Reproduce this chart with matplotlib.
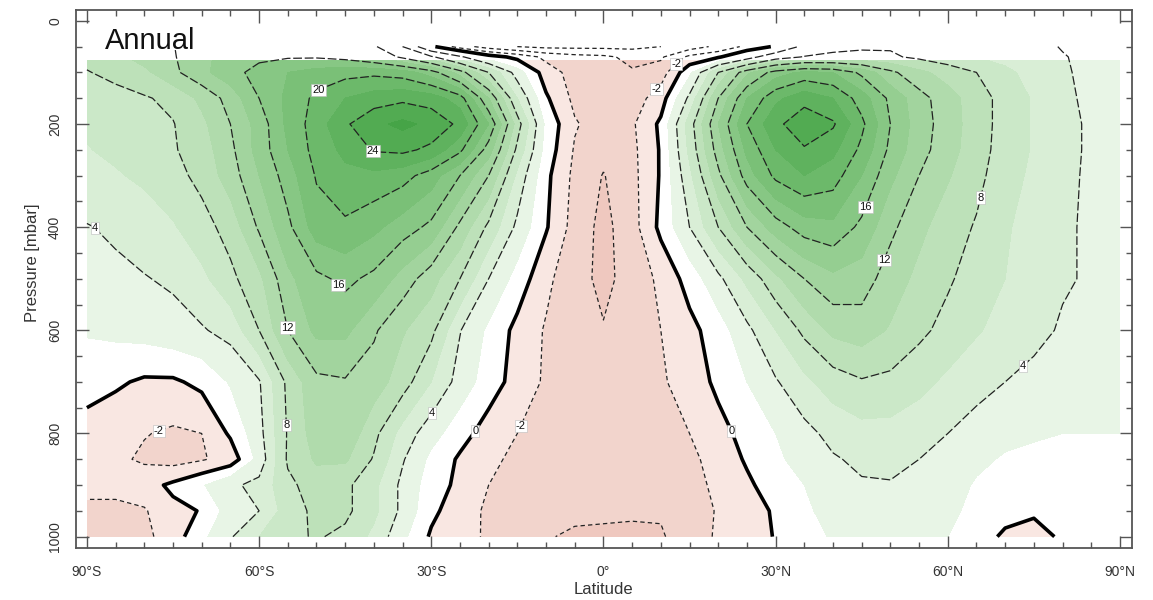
import numpy as np
import matplotlib
matplotlib.use('Agg')
import matplotlib.pyplot as plt
from matplotlib.patches import Rectangle

plt.rcParams['font.family'] = ['Liberation Sans', 'DejaVu Sans']

# zonal-mean zonal wind [m/s], annual mean; rows = pressure level, cols = latitude
lats = np.arange(-90, 91, 5)
plev = np.array([50, 70, 100, 150, 200, 250, 300, 400, 500, 600, 700, 800, 850, 900, 950, 1000])

u_050 = [8.7, 9.7, 10.9, 11.9, 13.5, 14.6, 15.2, 15.4, 15.2, 14.5, 12.5, 8.0, 0.5, -3.0, -5.0, -6.0, -6.5, -6.5, -6.5,
         -6.5, -6.0, -5.0, -3.5, -1.5, 0.3, 5.0, 7.5, 7.8, 7.8, 7.2, 6.5, 5.8, 5.0, 4.5, 3.9, 3.5, 3.3]
u_070 = [8.5, 9.5, 10.8, 11.8, 13.5, 14.8, 15.5, 15.8, 15.8, 15.3, 14.0, 11.5, 8.5, 4.5, 1.0, -0.6, -2.5, -3.3, -3.6,
         -4.5, -4.3, -1.5, -0.3, 2.5, 6.5, 8.2, 8.4, 8.4, 8.3, 7.6, 6.8, 6.0, 5.3, 4.7, 4.1, 3.6, 3.4]
u_100 = [7.9, 8.5, 9.5, 11.5, 13.5, 15.2, 16.8, 18.0, 18.8, 19.3, 19.5, 19.0, 17.0, 13.0, 8.0, 3.0, -1.0, -2.8, -3.3,
         -3.8, -3.0, 1.5, 8.0, 13.5, 17.0, 18.5, 18.0, 15.5, 12.5, 10.5, 9.2, 8.0, 6.5, 5.2, 4.2, 3.6, 3.4]
u_150 = [7.0, 7.4, 7.8, 8.5, 10.5, 12.8, 16.0, 18.5, 20.5, 22.0, 23.0, 23.5, 23.0, 21.0, 14.0, 6.0, 0.3, -2.5, -3.3,
         -3.0, -1.0, 4.5, 12.0, 18.0, 21.5, 23.3, 22.0, 19.0, 15.5, 12.8, 10.8, 9.0, 7.2, 5.8, 4.3, 3.7, 3.5]
u_200 = [6.3, 6.8, 7.4, 7.9, 9.5, 12.0, 14.8, 18.5, 21.0, 23.7, 25.5, 26.5, 25.5, 23.5, 18.0, 9.0, 1.5, -1.8, -3.0,
         -2.3, 0.4, 7.0, 14.0, 20.0, 23.5, 25.3, 24.3, 20.5, 16.0, 13.0, 11.0, 9.0, 7.2, 5.8, 4.4, 3.8, 3.6]
u_250 = [5.9, 6.4, 7.0, 7.8, 9.0, 11.5, 14.8, 18.0, 20.8, 22.5, 24.2, 24.5, 23.5, 20.5, 15.0, 7.5, 1.2, -2.2, -3.4,
         -2.5, 0.2, 6.5, 13.0, 18.5, 22.0, 23.8, 22.5, 19.5, 15.5, 12.8, 10.8, 8.9, 7.1, 5.8, 4.4, 3.8, 3.6]
u_300 = [5.3, 5.8, 6.4, 7.3, 8.6, 11.0, 14.0, 17.0, 20.2, 21.5, 21.5, 20.8, 19.0, 16.0, 12.0, 5.5, 0.5, -2.5, -4.1,
         -2.6, 0.2, 5.5, 11.5, 17.0, 20.5, 22.0, 21.0, 18.0, 14.5, 12.0, 10.2, 8.6, 6.8, 5.6, 4.3, 3.8, 3.6]
u_400 = [3.9, 4.3, 4.9, 5.8, 7.2, 8.8, 12.3, 15.5, 19.0, 19.6, 18.5, 17.0, 15.5, 11.5, 7.5, 3.5, 0.2, -2.8, -4.6,
         -2.8, 0.5, 4.0, 8.0, 12.0, 15.0, 17.0, 17.5, 15.5, 12.5, 10.5, 9.0, 7.8, 6.3, 5.0, 4.2, 3.8, 3.6]
u_500 = [3.3, 3.6, 3.9, 4.3, 5.5, 7.5, 9.5, 13.5, 15.5, 16.5, 15.5, 13.2, 10.8, 8.0, 4.0, 1.2, -1.5, -3.4, -4.4,
         -3.4, -1.5, 0.8, 3.5, 6.5, 9.5, 12.0, 13.5, 13.0, 11.0, 9.5, 8.3, 7.0, 6.0, 5.0, 4.2, 3.8, 3.6]
u_600 = [2.2, 2.5, 2.8, 3.3, 3.8, 4.7, 8.0, 12.0, 14.5, 14.5, 12.3, 10.2, 8.6, 4.1, 1.6, -0.6, -2.2, -3.1, -3.9,
         -3.1, -2.0, -0.6, 1.0, 3.5, 6.0, 8.5, 10.5, 11.0, 9.8, 8.5, 7.3, 6.2, 5.3, 4.5, 3.8, 3.5, 3.4]
u_700 = [0.8, 0.3, -0.3, -0.3, 0.5, 2.2, 3.8, 8.5, 11.5, 11.8, 11.0, 9.0, 6.0, 3.2, 1.0, -0.8, -2.3, -3.0, -3.0,
         -3.0, -2.3, -1.0, 0.4, 2.0, 3.8, 5.5, 7.0, 7.8, 7.5, 6.6, 5.6, 4.7, 4.0, 3.5, 3.0, 2.8, 2.7]
u_800 = [-0.8, -1.3, -1.9, -2.3, -2.0, 0.3, 3.3, 8.2, 11.0, 11.5, 8.6, 5.2, 2.8, 0.8, -0.9, -2.0, -3.0, -3.2, -3.0,
         -3.2, -3.0, -2.0, -0.6, 0.6, 2.0, 3.4, 4.6, 5.3, 5.3, 4.8, 4.0, 3.2, 2.5, 2.2, 2.0, 2.0, 2.0]
u_850 = [-1.0, -1.6, -2.3, -2.8, -2.2, -1.2, 2.7, 8.3, 10.3, 10.3, 7.8, 4.2, 1.5, -0.3, -1.5, -2.5, -3.2, -3.2, -2.8,
         -3.2, -3.6, -2.6, -1.0, 0.2, 1.6, 2.8, 3.8, 4.4, 4.4, 4.0, 3.3, 2.4, 1.8, 1.6, 1.6, 1.6, 1.6]
u_900 = [-1.5, -1.5, -0.8, 0.4, 1.8, 3.6, 4.6, 7.5, 9.0, 8.5, 6.5, 3.5, 1.0, -0.5, -2.0, -3.0, -3.5, -3.5, -3.2,
         -3.5, -3.8, -2.8, -1.5, -0.3, 0.8, 2.0, 3.2, 3.8, 3.9, 3.6, 2.8, 1.8, 1.2, 1.0, 1.2, 1.3, 1.3]
u_950 = [-2.4, -2.4, -2.2, -0.5, 0.1, 3.0, 4.0, 7.0, 8.5, 8.5, 6.5, 3.5, 0.5, -1.2, -2.3, -3.2, -3.8, -3.7, -3.7,
         -3.8, -3.9, -3.2, -1.8, -0.7, 0.2, 1.6, 2.8, 3.3, 3.4, 3.2, 2.5, 1.4, 0.6, 0.2, 0.8, 1.0, 1.0]
u_1000 = [-3.0, -3.0, -2.5, -1.0, 1.5, 3.8, 6.0, 7.5, 8.2, 7.5, 5.5, 2.5, -0.3, -1.5, -2.2, -3.5, -3.9, -4.2, -4.3,
          -4.3, -4.1, -3.5, -1.6, -0.8, 0.1, 1.2, 2.2, 2.8, 3.0, 2.8, 2.0, 0.8, -0.3, -0.5, 0.2, 0.5, 0.5]

U = np.array([u_050, u_070, u_100, u_150, u_200, u_250, u_300, u_400, u_500,
              u_600, u_700, u_800, u_850, u_900, u_950, u_1000])

# shading every 2 m/s: pink for easterlies, greens for westerlies
fill_levels = [-50, -4, -2, 0] + list(range(2, 30, 2)) + [50]
fill_colors = ['#efc8bf', '#f2d4cc', '#f9e7e2', '#ffffff',
               '#e8f5e6', '#d9eed6', '#cbe8c8', '#bde1b9', '#b0dbac', '#a2d49e', '#95ce91',
               '#87c784', '#7ac077', '#6cb96a', '#5fb25e', '#52ab52', '#46a447', '#3d9e3f']

fig = plt.figure(figsize=(11.53, 6.0), dpi=100)
ax = fig.add_axes([76 / 1153, 1 - 548 / 600, 1056 / 1153, 538 / 600])

cf = ax.contourf(lats, plev, U, levels=fill_levels, colors=fill_colors)
cf.set_clip_path(Rectangle((-90, 75), 180, 925, transform=ax.transData))

line_kw = dict(colors='#222222', linewidths=0.9)
pos = ax.contour(lats, plev, U, levels=[4, 8, 12, 16, 20, 24], **line_kw)
pos.set_linestyle((0, (7, 2.2)))
neg = ax.contour(lats, plev, U, levels=[-6, -4, -2], **line_kw)
neg.set_linestyle((0, (3.5, 2.5)))
zero = ax.contour(lats, plev, U, levels=[0], colors='black', linewidths=2.6)

lab_kw = dict(inline=False, fmt='%d', fontsize=8)
txts = []
txts += ax.clabel(pos, manual=[(-50, 125), (-40, 250), (-47.5, 526), (-54.8, 594),
                               (-55, 783), (-30, 760), (-86, 377),
                               (45, 358), (48, 460), (65, 341), (70, 636)], **lab_kw)
txts += ax.clabel(neg, manual=[(-77, 807), (-15, 783), (10.3, 144), (12.9, 86)], **lab_kw)
txts += ax.clabel(zero, manual=[(-22.6, 793), (22.6, 793)], **lab_kw)
for t in txts:
    t.set_rotation(0)
    t.set_color('#111111')
    t.set_bbox(dict(facecolor='white', edgecolor='#bbbbbb', linewidth=0.4, pad=0.8))

ax.set_xlim(-91.9, 92.1)
ax.set_ylim(1022, -21)

ax.set_xticks([-90, -60, -30, 0, 30, 60, 90])
ax.set_xticklabels(['90°S', '60°S', '30°S', '0°', '30°N', '60°N', '90°N'])
ax.set_xticks(np.arange(-90, 91, 5), minor=True)
ax.set_yticks([0, 200, 400, 600, 800, 1000])
ax.set_yticklabels(['0', '200', '400', '600', '800', '1000'], rotation=90, va='center')
ax.set_yticks(np.arange(0, 1001, 50), minor=True)

ax.tick_params(which='both', direction='in', top=True, right=True,
               color='#555555', width=1.0, labelsize=10, labelcolor='#333333')
ax.tick_params(which='major', length=9)
ax.tick_params(which='minor', length=4.5)
ax.tick_params(axis='x', pad=12)
ax.tick_params(axis='y', pad=10)
for s in ax.spines.values():
    s.set_color('#555555')
    s.set_linewidth(1.3)

ax.text(0.0275, 0.9275, 'Annual', transform=ax.transAxes, fontsize=21,
        va='baseline', ha='left', color='#111111')
fig.text(603 / 1153, 1 - 589 / 600, 'Latitude', ha='center', va='center',
         fontsize=12, color='#333333')
fig.text(33 / 1153, 1 - 263 / 600, 'Pressure [mbar]', ha='center', va='center',
         rotation=90, fontsize=12, color='#333333')

fig.savefig('out.png', dpi=100)
